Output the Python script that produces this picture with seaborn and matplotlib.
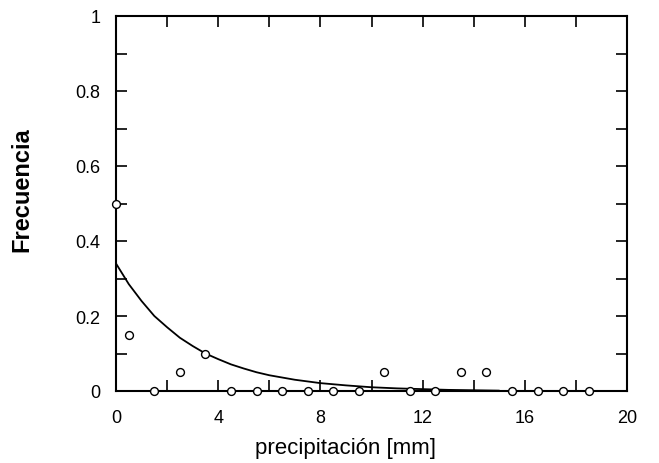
import matplotlib
matplotlib.use("Agg")
import matplotlib.pyplot as plt
import seaborn as sns
import numpy as np
import pandas as pd
from matplotlib.ticker import MultipleLocator, FuncFormatter

# observed frequencies
precip = [0, 0.5, 1.5, 2.5, 3.5, 4.5, 5.5, 6.5, 7.5, 8.5, 9.5,
          10.5, 11.5, 12.5, 13.5, 14.5, 15.5, 16.5, 17.5, 18.5]
freq = [0.5, 0.15, 0, 0.05, 0.1, 0, 0, 0, 0, 0, 0,
        0.05, 0, 0, 0.05, 0.05, 0, 0, 0, 0]

# fitted curve
curve_x = [0, 0.5, 1, 1.5, 2, 2.5, 3, 3.5, 4, 4.5, 5, 5.5, 6, 7, 8, 9,
           10, 11, 12, 13, 14, 15]
curve_y = [0.34, 0.285, 0.24, 0.2, 0.17, 0.142, 0.12, 0.1, 0.085, 0.071,
           0.06, 0.05, 0.042, 0.03, 0.021, 0.015, 0.01, 0.007, 0.005,
           0.003, 0.002, 0.001]

sns.set_theme(style="white")
plt.rcParams['font.family'] = ['Liberation Sans', 'DejaVu Sans']
plt.rcParams['text.color'] = 'black'
plt.rcParams['axes.labelcolor'] = 'black'
plt.rcParams['xtick.color'] = 'black'
plt.rcParams['ytick.color'] = 'black'

fig = plt.figure(figsize=(6.59, 4.64), dpi=100)
ax = fig.add_axes([116/659, 1-392/464, (627-116)/659, (392-17)/464])

df_c = pd.DataFrame({"x": curve_x, "y": curve_y})
sns.lineplot(data=df_c, x="x", y="y", ax=ax, color="black", lw=1.3)
df = pd.DataFrame({"x": precip, "y": freq})
sns.scatterplot(data=df, x="x", y="y", ax=ax, marker="o", s=32,
                facecolor="white", edgecolor="black", linewidth=1.0,
                zorder=5, clip_on=False)

ax.set_xlim(0, 20)
ax.set_ylim(0, 1)
ax.xaxis.set_major_locator(MultipleLocator(4))
ax.xaxis.set_minor_locator(MultipleLocator(2))
ax.yaxis.set_major_locator(MultipleLocator(0.2))
ax.yaxis.set_minor_locator(MultipleLocator(0.1))
fmt = FuncFormatter(lambda v, p: f"{v:g}")
ax.xaxis.set_major_formatter(fmt)
ax.yaxis.set_major_formatter(fmt)
ax.tick_params(which="both", direction="in", top=True, right=True,
               bottom=True, left=True, color="black", width=1.2)
ax.tick_params(which="major", length=8, labelsize=13)
ax.tick_params(axis="x", which="major", pad=13)
ax.tick_params(axis="y", which="major", pad=11)
ax.tick_params(which="minor", length=8)
for s in ax.spines.values():
    s.set_color("black")
    s.set_linewidth(1.5)

ax.set_xlabel("precipitación [mm]", fontsize=16)
ax.set_ylabel("Frecuencia", fontsize=17, fontweight="bold")
ax.xaxis.set_label_coords(0.45, -0.122)
ax.yaxis.set_label_coords(-0.162, 0.541)

fig.savefig("out.png", dpi=100)
